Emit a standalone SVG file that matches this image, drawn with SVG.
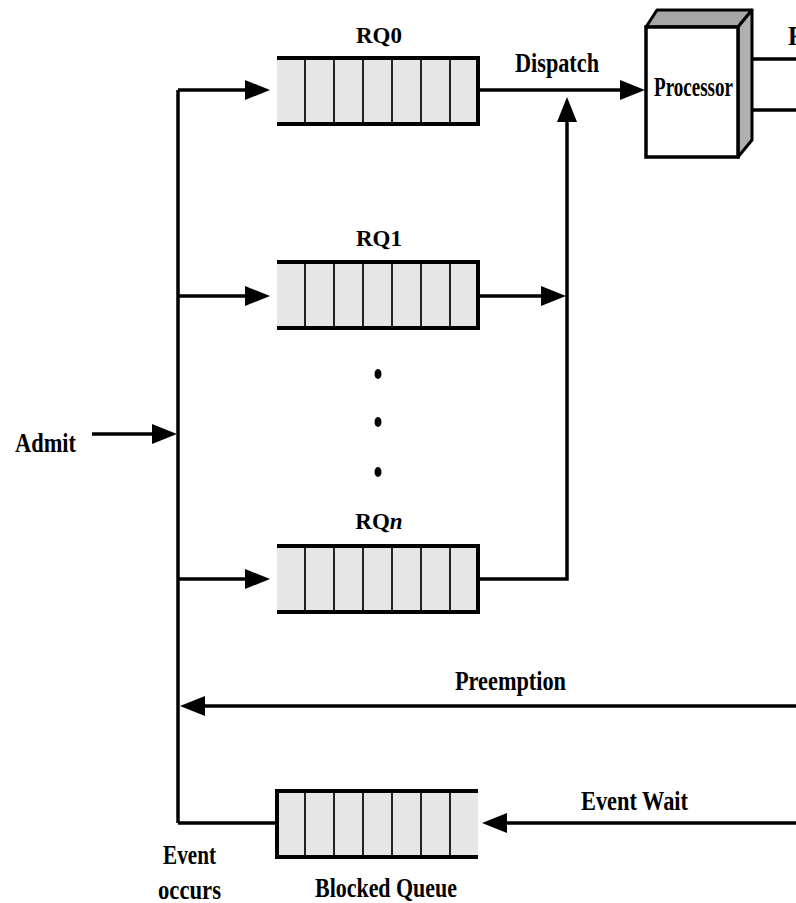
<svg xmlns="http://www.w3.org/2000/svg" width="796" height="903" viewBox="0 0 796 903">
<style>
.ln{stroke:#000;stroke-width:3.5;fill:none}
.qf{fill:#e6e6e6;stroke:none}
.qe{stroke:#000;stroke-width:4;fill:none}
.qd{stroke:#222;stroke-width:2}
.t{font-family:"Liberation Serif","Times New Roman",serif;font-weight:bold;font-size:28px;fill:#000}
.rq{font-family:"Liberation Serif","Times New Roman",serif;font-weight:bold;font-size:23px;fill:#000;text-anchor:middle}
.ah{fill:#000}
</style>
<defs>
<g id="cells">
<rect class="qf" x="277" y="0" width="201" height="66"/>
<line class="qd" x1="305" y1="0" x2="305" y2="66"/>
<line class="qd" x1="334" y1="0" x2="334" y2="66"/>
<line class="qd" x1="363" y1="0" x2="363" y2="66"/>
<line class="qd" x1="392" y1="0" x2="392" y2="66"/>
<line class="qd" x1="421" y1="0" x2="421" y2="66"/>
<line class="qd" x1="450" y1="0" x2="450" y2="66"/>
<line class="qe" x1="277" y1="0" x2="478" y2="0"/>
<line class="qe" x1="277" y1="66" x2="478" y2="66"/>
</g>
</defs>

<g id="connectors">
<line class="ln" x1="178" y1="90" x2="178" y2="823"/>
<polyline class="ln" points="178,823 277,823"/>
<line class="ln" x1="178" y1="90" x2="250" y2="90"/>
<polygon class="ah" points="270,90 245,80 245,100"/>
<line class="ln" x1="178" y1="296" x2="250" y2="296"/>
<polygon class="ah" points="270,296 245,286 245,306"/>
<line class="ln" x1="178" y1="579" x2="250" y2="579"/>
<polygon class="ah" points="270,579 245,569 245,589"/>
<line class="ln" x1="92" y1="434" x2="158" y2="434"/>
<polygon class="ah" points="177,434 152,424 152,444"/>
<line class="ln" x1="478" y1="90" x2="625" y2="90"/>
<polygon class="ah" points="645,90 620,80 620,100"/>
<line class="ln" x1="478" y1="296" x2="545" y2="296"/>
<polygon class="ah" points="566,296 541,286 541,306"/>
<polyline class="ln" points="478,579 567,579 567,118"/>
<polygon class="ah" points="567,97 557,122 577,122"/>
<line class="ln" x1="752" y1="59" x2="796" y2="59"/>
<line class="ln" x1="752" y1="110" x2="796" y2="110"/>
<line class="ln" x1="796" y1="706" x2="200" y2="706"/>
<polygon class="ah" points="180,706 205,696 205,716"/>
<line class="ln" x1="796" y1="823" x2="500" y2="823"/>
<polygon class="ah" points="482,823 507,813 507,833"/>
</g>

<g id="admit"><text class="t" x="15" y="452" textLength="61" lengthAdjust="spacingAndGlyphs">Admit</text></g>

<g id="rq0">
<use href="#cells" transform="translate(0,58)"/>
<line class="qe" x1="478" y1="56" x2="478" y2="126" stroke-width="3"/>
<text class="rq" x="379" y="43">RQ0</text>
</g>

<g id="rq1">
<use href="#cells" transform="translate(0,262)"/>
<line class="qe" x1="478" y1="260" x2="478" y2="330" stroke-width="3"/>
<text class="rq" x="379" y="246">RQ1</text>
</g>

<g id="dots">
<ellipse cx="378" cy="374" rx="3.5" ry="5"/>
<ellipse cx="378" cy="422" rx="3.5" ry="5"/>
<ellipse cx="378" cy="472" rx="3.5" ry="5"/>
</g>

<g id="rqn">
<use href="#cells" transform="translate(0,546)"/>
<line class="qe" x1="478" y1="544" x2="478" y2="614" stroke-width="3"/>
<text class="rq" x="379" y="529">RQ<tspan font-style="italic">n</tspan></text>
</g>

<g id="blocked">
<use href="#cells" transform="translate(0,791)"/>
<line class="qe" x1="277" y1="789" x2="277" y2="859" stroke-width="3"/>
<text class="t" x="315" y="897" textLength="142" lengthAdjust="spacingAndGlyphs">Blocked Queue</text>
</g>

<g id="processor">
<polygon points="646,27 657,10 752,10 738,27" fill="#a6a6a6" stroke="#000" stroke-width="3" stroke-linejoin="round"/>
<polygon points="738,27 752,10 752,140 738,157" fill="#b0b0b0" stroke="#000" stroke-width="3" stroke-linejoin="round"/>
<rect x="646" y="27" width="92" height="130" fill="#fff" stroke="#000" stroke-width="3.5"/>
<text class="t" x="654" y="96" font-size="24" textLength="79" lengthAdjust="spacingAndGlyphs">Processor</text>
</g>

<g id="labels">
<text class="t" x="515" y="72" textLength="84" lengthAdjust="spacingAndGlyphs">Dispatch</text>
<text class="t" x="788" y="45" textLength="80" lengthAdjust="spacingAndGlyphs">Release</text>
<text class="t" x="455" y="690" textLength="111" lengthAdjust="spacingAndGlyphs">Preemption</text>
<text class="t" x="581" y="810" textLength="107" lengthAdjust="spacingAndGlyphs">Event Wait</text>
<text class="t" x="163" y="864" textLength="53" lengthAdjust="spacingAndGlyphs">Event</text>
<text class="t" x="158" y="899" textLength="63" lengthAdjust="spacingAndGlyphs">occurs</text>
</g>
</svg>
